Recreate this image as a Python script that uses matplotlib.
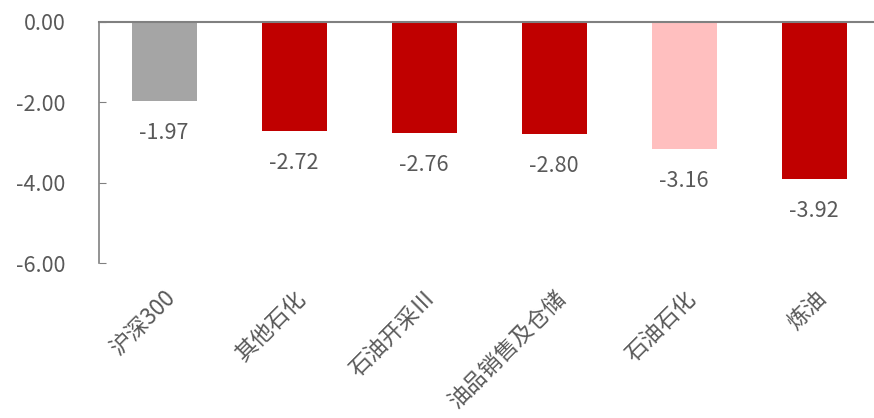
import numpy as np
import matplotlib
matplotlib.use('Agg')
import matplotlib.pyplot as plt

plt.rcParams['font.family'] = ['Noto Sans CJK SC', 'DejaVu Sans']

categories = ['沪深300', '其他石化', '石油开采Ⅲ', '油品销售及仓储', '石油石化', '炼油']
values = [-1.97, -2.72, -2.76, -2.80, -3.16, -3.92]
colors = ['#a5a5a5', '#c00000', '#c00000', '#c00000', '#ffbfbf', '#c00000']

txt = '#595959'
axc = '#808080'

fig = plt.figure(figsize=(8.74, 4.18), dpi=100)
ax = fig.add_axes([99 / 874, 1 - 263 / 418, 1 - 99 / 874, (263 - 22) / 418])

x = np.arange(len(categories))
ax.bar(x, values, width=0.5, color=colors, zorder=2)

# value labels under each bar
for xi, v in zip(x, values):
    ax.annotate('{:.2f}'.format(v), (xi, v), xytext=(0, -15), textcoords='offset points',
                ha='center', va='top', fontsize=15.5, color=txt)

ax.set_ylim(-6, 0)
ax.set_xlim(-0.5, 5.5 - 5 / 130)
ax.set_yticks([0, -2, -4, -6])
ax.set_yticklabels(['{:.2f}'.format(t) for t in [0, -2, -4, -6]], fontsize=15.5, color=txt)
ax.tick_params(axis='y', direction='in', length=5, color=axc, pad=24)

ax.set_xticks(x)
ax.set_xticklabels(categories, rotation=45, ha='right', rotation_mode='anchor',
                   fontsize=16, color=txt)
ax.tick_params(axis='x', length=0, pad=17)

for s in ['top', 'right', 'bottom']:
    ax.spines[s].set_visible(False)
ax.spines['left'].set_color(axc)
ax.spines['left'].set_linewidth(1.2)
ax.axhline(0, color=axc, lw=1.5, zorder=3, clip_on=False)

fig.savefig('out.png', dpi=100)
